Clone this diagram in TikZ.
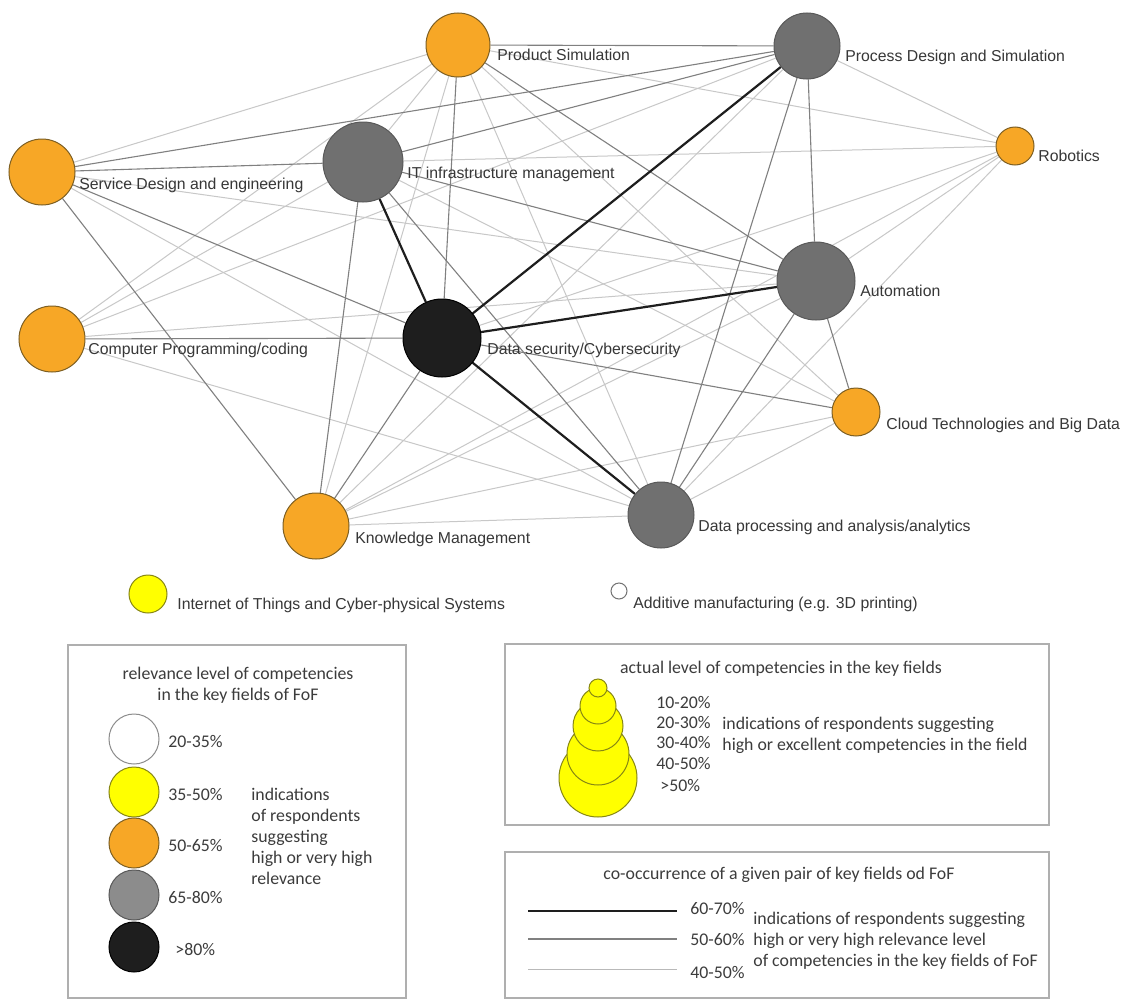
\documentclass[tikz,border=0pt]{standalone}
\usepackage{fontspec}
\setmainfont{Liberation Sans}
\newfontfamily\calfont{Carlito}
\usepackage{xcolor}
\usepackage{tikz}
\usetikzlibrary{positioning, backgrounds}
\definecolor{fieldorange}{RGB}{247,167,38}
\definecolor{fieldgrey}{RGB}{112,112,112}
\definecolor{fieldblack}{RGB}{30,30,30}
\definecolor{fieldyellow}{RGB}{255,255,0}
\definecolor{rimorange}{RGB}{125,95,35}
\definecolor{rimyellow}{RGB}{135,135,20}
\definecolor{linkmd}{RGB}{128,128,128}
\definecolor{linklt}{RGB}{200,200,200}
\definecolor{labeltext}{RGB}{55,55,55}
\definecolor{legtext}{RGB}{60,60,60}
\definecolor{boxgrey}{RGB}{175,175,175}

\begin{document}
\begin{tikzpicture}[x=0.5pt, y=-0.5pt,
	field/.style={circle, draw, line width=0.5pt, inner sep=0pt},
	orangef/.style={field, fill=fieldorange, draw=rimorange},
	greyf/.style={field, fill=fieldgrey, draw=black!65},
	yellowf/.style={field, fill=fieldyellow, draw=rimyellow},
	fname/.style={anchor=west, inner sep=0pt, font=\fontsize{7.9}{9}\selectfont, text=labeltext, text height=1.5ex, text depth=.25ex},
	legnote/.style={inner sep=0pt, font=\calfont\fontsize{8.9}{10.5}\selectfont, text=legtext},
	linkhi/.style={line width=1.1pt, draw=fieldblack},
	linkmid/.style={line width=0.55pt, draw=linkmd},
	linklo/.style={line width=0.5pt, draw=linklt},
	legframe/.style={line width=1pt, draw=boxgrey}]

				%% key fields of FoF
				\node[orangef, minimum size=32pt] (ps) at (458,45) {};
				\node[greyf, minimum size=33pt] (pd) at (807,46) {};
				\node[orangef, minimum size=19pt] (rb) at (1015,146) {};
				\node[orangef, minimum size=33pt] (sd) at (42,172) {};
				\node[greyf, minimum size=40pt] (it) at (363,162) {};
				\node[greyf, minimum size=39pt] (au) at (816,281) {};
				\node[orangef, minimum size=33pt] (cp) at (52,339) {};
				\node[field, fill=fieldblack, draw=black, minimum size=39pt] (ds) at (442,338) {};
				\node[orangef, minimum size=24pt] (cl) at (856,412) {};
				\node[orangef, minimum size=33pt] (km) at (316,526) {};
				\node[greyf, minimum size=33pt] (dp) at (661,515) {};
				\node[yellowf, minimum size=19pt] (iot) at (148,594) {};
				\node[field, fill=white, draw=black!55, minimum size=8pt] (am) at (619,591) {};

				\node[fname] (ps-t) at (497,54) {Product Simulation};
				\node[fname] (pd-t) at (845,55) {Process Design and Simulation};
				\node[fname] (rb-t) at (1038,155) {Robotics};
				\node[fname] (sd-t) at (79,183) {Service Design and engineering};
				\node[fname] (it-t) at (407,172) {IT infrastructure management};
				\node[fname] (au-t) at (860,290) {Automation};
				\node[fname] (cp-t) at (88,348) {Computer Programming/coding};
				\node[fname] (ds-t) at (487,348) {Data security/Cybersecurity};
				\node[fname] (cl-t) at (886,423) {Cloud Technologies and Big Data};
				\node[fname] (km-t) at (355,537) {Knowledge Management};
				\node[fname] (dp-t) at (698,525) {Data processing and analysis/analytics};
				\node[fname] (iot-t) at (177,603) {Internet of Things and Cyber-physical Systems};
				\node[fname] (am-t) at (633,602) {Additive manufacturing (e.g. 3D printing)};

				%% co-occurrence links
				\begin{scope}[on background layer]
				\fill[white] (0,0) rectangle (1130,1001);
				\draw[linklo] (ps) -- (sd) (ps) -- (it) (ps) -- (cp) (ps) -- (km) (ps) -- (dp) (ps) -- (cl) (ps) -- (rb);
				\draw[linklo] (pd) -- (cp) (pd) -- (rb) (pd) -- (km);
				\draw[linklo] (rb) -- (it) (rb) -- (ds) (rb) -- (au) (rb) -- (dp) (rb) -- (km);
				\draw[linklo] (sd) -- (au) (sd) -- (dp) (cp) -- (it) (cp) -- (au) (cp) -- (dp);
				\draw[linklo] (it) -- (cl) (au) -- (km) (cl) -- (km) (cl) -- (dp) (km) -- (dp);
				\draw[linkmid] (ps) -- (pd) (ps) -- (ds) (ps) -- (au);
				\draw[linkmid] (pd) -- (sd) (pd) -- (it) (pd) -- (au) (pd) -- (dp);
				\draw[linkmid] (sd) -- (it) (sd) -- (ds) (sd) -- (km) (cp) -- (ds);
				\draw[linkmid] (it) -- (au) (it) -- (km) (it) -- (dp);
				\draw[linkmid] (au) -- (cl) (au) -- (dp) (ds) -- (km) (ds) -- (cl);
				\draw[linkhi] (ds) -- (it) (ds) -- (pd) (ds) -- (au) (ds) -- (dp);
				\end{scope}

				%% legend: relevance level
				\draw[legframe] (68,645) rectangle (406,998);
				\node[legnote, align=center] (rel-title) at (238,685) {relevance level of competencies\\in the key fields of FoF};
				\node[field, fill=white, draw=black!45, minimum size=25pt] (rel-a) at (134,739) {};
				\node[yellowf, minimum size=25pt] (rel-b) at (134,792) {};
				\node[orangef, minimum size=25pt] (rel-c) at (134,843) {};
				\node[greyf, fill=gray!90!white, minimum size=25pt] (rel-d) at (134,895) {};
				\node[field, fill=fieldblack, draw=black, minimum size=25pt] (rel-e) at (134,947) {};
				\node[legnote, anchor=west] (rel-a-t) at (168,741) {20-35\%};
				\node[legnote, anchor=west] (rel-b-t) at (168,794) {35-50\%};
				\node[legnote, anchor=west] (rel-c-t) at (168,845) {50-65\%};
				\node[legnote, anchor=west] (rel-d-t) at (168,897) {65-80\%};
				\node[legnote, anchor=west] (rel-e-t) at (175,949) {>80\%};
				\node[legnote, align=left, anchor=west] (rel-note) at (251,836) {indications\\of respondents\\suggesting\\high or very high\\relevance};

				%% legend: actual level
				\draw[legframe] (505,644) rectangle (1049,825);
				\node[legnote] (act-title) at (781,669) {actual level of competencies in the key fields};
				\node[yellowf, minimum size=39pt] (act-e) at (598,778) {};
				\node[yellowf, minimum size=31pt] (act-d) at (598,754) {};
				\node[yellowf, minimum size=25pt] (act-c) at (598,726) {};
				\node[yellowf, minimum size=18pt] (act-b) at (598,706) {};
				\node[yellowf, minimum size=9pt] (act-a) at (598,688) {};
				\node[legnote, anchor=west] (act-a-t) at (656,702) {10-20\%};
				\node[legnote, anchor=west] (act-b-t) at (656,722) {20-30\%};
				\node[legnote, anchor=west] (act-c-t) at (656,742) {30-40\%};
				\node[legnote, anchor=west] (act-d-t) at (656,763) {40-50\%};
				\node[legnote, anchor=west] (act-e-t) at (660,785) {>50\%};
				\node[legnote, align=left, anchor=west] (act-note) at (722,735) {indications of respondents suggesting\\high or excellent competencies in the field};

				%% legend: co-occurrence
				\draw[legframe] (505,852) rectangle (1049,998);
				\node[legnote] (co-title) at (779,875) {co-occurrence of a given pair of key fields od FoF};
				\draw[linkhi, line width=1.2pt] (528,911) -- (677,911);
				\draw[linkmid] (528,939) -- (677,939);
				\draw[linklo, draw=gray!55] (528,969) -- (677,969);
				\node[legnote, anchor=west] (co-a-t) at (690,908) {60-70\%};
				\node[legnote, anchor=west] (co-b-t) at (690,939) {50-60\%};
				\node[legnote, anchor=west] (co-c-t) at (690,972) {40-50\%};
				\node[legnote, align=left, anchor=west] (co-note) at (753,941) {indications of respondents suggesting\\high or very high relevance level\\of competencies in the key fields of FoF};
\end{tikzpicture}
\end{document}
